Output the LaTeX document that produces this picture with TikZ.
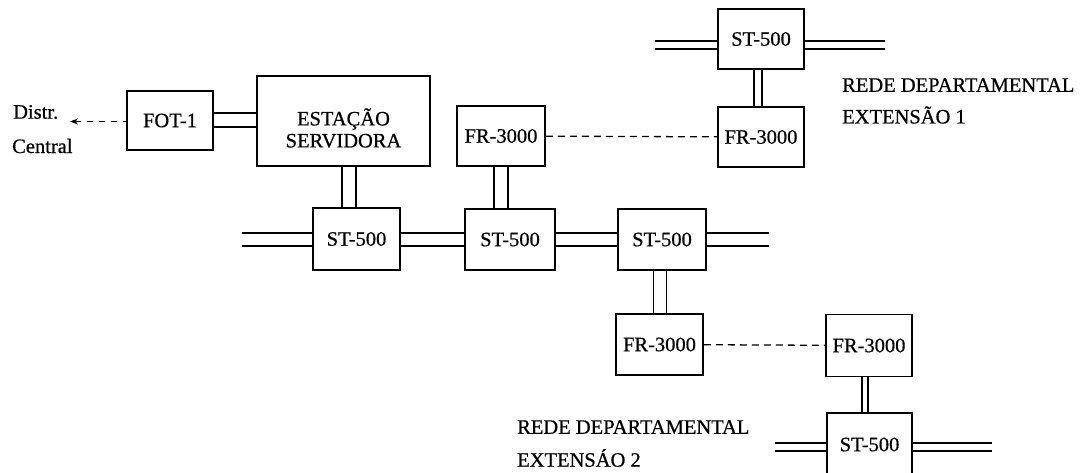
\documentclass[tikz,border=0pt]{standalone}
\usepackage{fontspec}
\setmainfont{Liberation Serif}
\newfontfamily\scanfont{Liberation Serif}[FakeBold=0.6]
\usetikzlibrary{arrows.meta,backgrounds}
\begin{document}
\begin{tikzpicture}[x=1pt,y=-1pt,
  box/.style={draw, line width=1.6pt, fill=white, inner sep=0pt, font=\scanfont\fontsize{20.5}{22}\selectfont},
  dbl/.style={draw, double, line width=1.3pt, double distance=#1},
  dbl/.default=11.5pt,
  dsh/.style={draw, line width=1.3pt, dash pattern=on 7pt off 5pt},
  lbl/.style={font=\scanfont\fontsize{20.5}{22}\selectfont, inner sep=0pt, anchor=west}]
\clip (0,0) rectangle (1083,472);
% boxes
\node[box, minimum width=86pt, minimum height=59pt] (fot) at (170,120.5) {FOT-1};
\node[box, minimum width=173pt, minimum height=90pt] (est) at (343.5,121) {};
\node[lbl, anchor=center, align=center] (estt) at (343.5,128) {ESTAÇÃO\\SERVIDORA};
\node[box, minimum width=87pt, minimum height=62pt] (st1) at (356.5,239) {ST-500};
\node[box, minimum width=90pt, minimum height=61pt] (st2) at (510,239.5) {ST-500};
\node[box, minimum width=88pt, minimum height=61pt] (st3) at (662,239.5) {ST-500};
\node[box, minimum width=88pt, minimum height=60pt] (fr1) at (501,136) {FR-3000};
\node[box, minimum width=86pt, minimum height=60pt] (fr2) at (761,137) {FR-3000};
\node[box, minimum width=86pt, minimum height=60pt] (sttop) at (761,39) {ST-500};
\node[box, minimum width=87pt, minimum height=61pt] (fr3) at (659.5,344.5) {FR-3000};
\node[box, minimum width=86pt, minimum height=62pt] (fr4) at (869,345.5) {FR-3000};
\node[box, minimum width=85pt, minimum height=63pt] (stlow) at (869.5,444.5) {ST-500};
% labels
\node[lbl] (distr) at (13,112) {Distr.};
\node[lbl] (central) at (12,146) {Central};
\node[lbl] (r1a) at (842,85) {REDE DEPARTAMENTAL};
\node[lbl] (r1b) at (842,115) {EXTENSÃO 1};
\node[lbl] (r2a) at (517,427) {REDE DEPARTAMENTAL};
\node[lbl] (r2b) at (517,458) {EXTENSÁO 2};
% coordinates
\coordinate (dc) at (70,121.5);
\coordinate (hf) at (0,120);
\coordinate (v1) at (349,0);
\coordinate (v3) at (660,0);
\coordinate (v4) at (758,0);
\coordinate (v5) at (865,0);
\coordinate (rowL) at (242,239.5);
\coordinate (rowR) at (769,239.5);
\coordinate (tL) at (655,45);
\coordinate (tR) at (885,45);
\coordinate (lL) at (775,447);
\coordinate (lR) at (992,447);
\begin{scope}[on background layer]
\draw[dbl=12.5pt] (fot.east |- hf) -- (est.west |- hf);
\draw[dbl=12.5pt] (est.south -| v1) -- (st1.north -| v1);
\draw[dbl=12.5pt] (fr1.south) -- (fr1.south |- st2.north);
\draw[dbl=11.5pt] (st3.south -| v3) -- (fr3.north -| v3);
\draw[dbl=6.5pt] (sttop.south -| v4) -- (fr2.north -| v4);
\draw[dbl=4.5pt] (fr4.south -| v5) -- (stlow.north -| v5);
\draw[dbl] (rowL) -- (st1.west |- rowL);
\draw[dbl] (st1.east |- rowL) -- (st2.west |- rowL);
\draw[dbl] (st2.east |- rowL) -- (st3.west |- rowL);
\draw[dbl] (st3.east |- rowL) -- (rowR);
\draw[dbl=6.5pt] (tL) -- (sttop.west |- tL);
\draw[dbl=6.5pt] (sttop.east |- tL) -- (tR);
\draw[dbl=6.5pt] (lL) -- (stlow.west |- lL);
\draw[dbl=6.5pt] (stlow.east |- lL) -- (lR);
\draw[dsh] (fr1) -- (fr2);
\draw[dsh] (fr3) -- (fr4);
\draw[dsh, dash pattern=on 6pt off 6pt, {Stealth[length=8pt,width=6pt]}-] (dc) -- (fot.west |- dc);
\end{scope}
\end{tikzpicture}
\end{document}
